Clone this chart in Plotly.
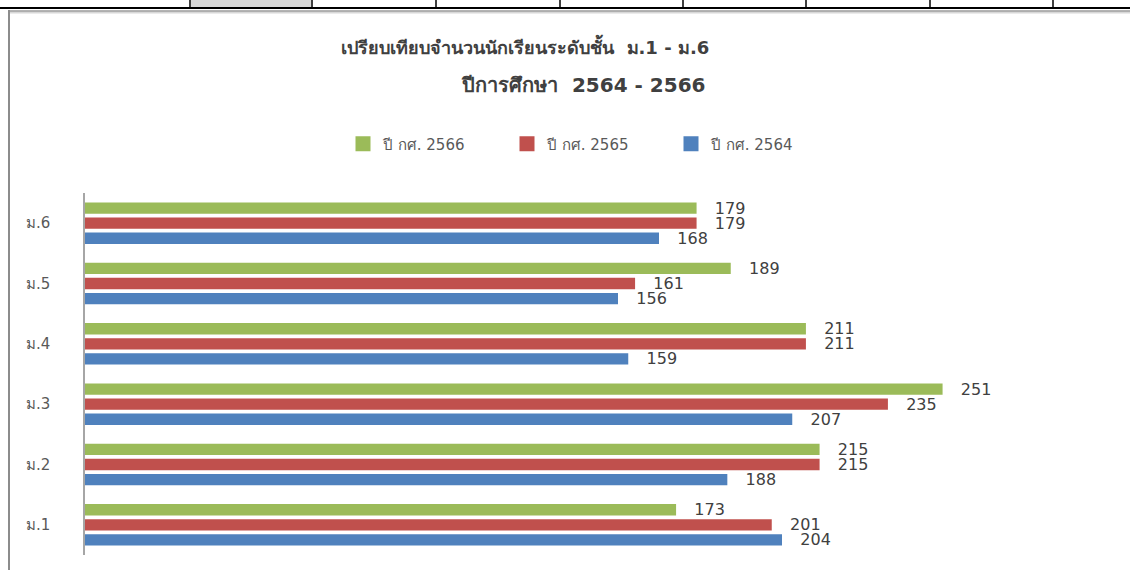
import plotly.graph_objects as go

W, H = 1130, 570

grades = ['ม.1', 'ม.2', 'ม.3', 'ม.4', 'ม.5', 'ม.6']
y2564 = [204, 188, 207, 159, 156, 168]
y2565 = [201, 215, 235, 211, 161, 179]
y2566 = [173, 215, 251, 211, 189, 179]

series = [
    ('ปี กศ. 2564', y2564, '#4F81BD'),
    ('ปี กศ. 2565', y2565, '#C0504D'),
    ('ปี กศ. 2566', y2566, '#9BBB59'),
]

font_family = 'Tahoma, Verdana, DejaVu Sans, sans-serif'
txt_color = '#404040'

fig = go.Figure()

for name, vals, color in series:
    fig.add_trace(go.Bar(
        y=grades,
        x=vals,
        orientation='h',
        name=name,
        marker_color=color,
        marker_line=dict(width=0),
        text=vals,
        texttemplate='\u00a0\u00a0\u00a0%{text}',
        textposition='outside',
        constraintext='none',
        textfont=dict(size=16, color=txt_color, family=font_family),
        cliponaxis=False,
        showlegend=False,
        hoverinfo='x+name'
    ))

# legend entries (bigger squares than the default bar swatch)
for name, vals, color in reversed(series):
    fig.add_trace(go.Scatter(
        x=[None], y=[None],
        mode='markers',
        name=name,
        marker=dict(symbol='square', size=15, color=color),
        hoverinfo='skip'
    ))


def px(x):
    return x / W


def py(y):
    return 1 - y / H


shapes = []
# spreadsheet row above the chart
shapes.append(dict(type='rect', xref='paper', yref='paper', x0=px(191), x1=px(311), y0=py(0), y1=py(7),
                   fillcolor='#d9d9d9', line=dict(width=0), layer='below'))
for cx in [190, 312, 436, 560, 683, 806, 930, 1053]:
    shapes.append(dict(type='line', xref='paper', yref='paper', x0=px(cx), x1=px(cx), y0=py(0), y1=py(8),
                       line=dict(color='black', width=1.5)))
shapes.append(dict(type='line', xref='paper', yref='paper', x0=0, x1=1, y0=py(8), y1=py(8),
                   line=dict(color='black', width=2)))
# chart frame
shapes.append(dict(type='line', xref='paper', yref='paper', x0=px(9), x1=1, y0=py(12.5), y1=py(12.5),
                   line=dict(color='#d8d8d8', width=2)))
shapes.append(dict(type='line', xref='paper', yref='paper', x0=px(9), x1=1, y0=py(11), y1=py(11),
                   line=dict(color='#9a9a9a', width=1.5)))
shapes.append(dict(type='line', xref='paper', yref='paper', x0=px(9), x1=px(9), y0=py(10), y1=0,
                   line=dict(color='#8c8c8c', width=2)))

fig.update_layout(
    width=W, height=H,
    margin=dict(l=0, r=0, t=0, b=0),
    paper_bgcolor='white',
    plot_bgcolor='white',
    barmode='group',
    bargap=0.25,
    bargroupgap=0.25,
    showlegend=True,
    legend=dict(
        orientation='h',
        x=px(343), xanchor='left',
        y=py(144), yanchor='middle',
        font=dict(size=15, color='#595959', family=font_family),
        entrywidth=119,
        entrywidthmode='pixels',
        itemclick=False
    ),
    shapes=shapes,
    annotations=[
        dict(text='<b>เปรียบเทียบจำนวนนักเรียนระดับชั้น\u00a0\u00a0ม.1 - ม.6</b>', xref='paper', yref='paper',
             x=px(525), y=py(46), xanchor='center', yanchor='middle', showarrow=False,
             font=dict(size=18, color=txt_color, family=font_family)),
        dict(text='<b>ปีการศึกษา\u00a0\u00a02564 - 2566</b>', xref='paper', yref='paper',
             x=px(707), y=py(85), xanchor='right', yanchor='middle', showarrow=False,
             font=dict(size=20, color=txt_color, family=font_family)),
    ],
    xaxis=dict(
        domain=[px(85), px(1110)],
        range=[0, 300],
        showgrid=False,
        zeroline=False,
        showticklabels=False,
        showline=False,
        fixedrange=True
    ),
    yaxis=dict(
        domain=[py(555), py(193)],
        showgrid=False,
        showline=True,
        linecolor='#a6a6a6',
        linewidth=1.5,
        ticks='',
        ticklabelstandoff=30,
        tickfont=dict(size=15, color='#595959', family=font_family),
        automargin=False,
        fixedrange=True
    ),
    font=dict(family=font_family)
)

fig.write_html('out.html', config={'displayModeBar': False},
               post_script="document.body.style.margin='0';")
